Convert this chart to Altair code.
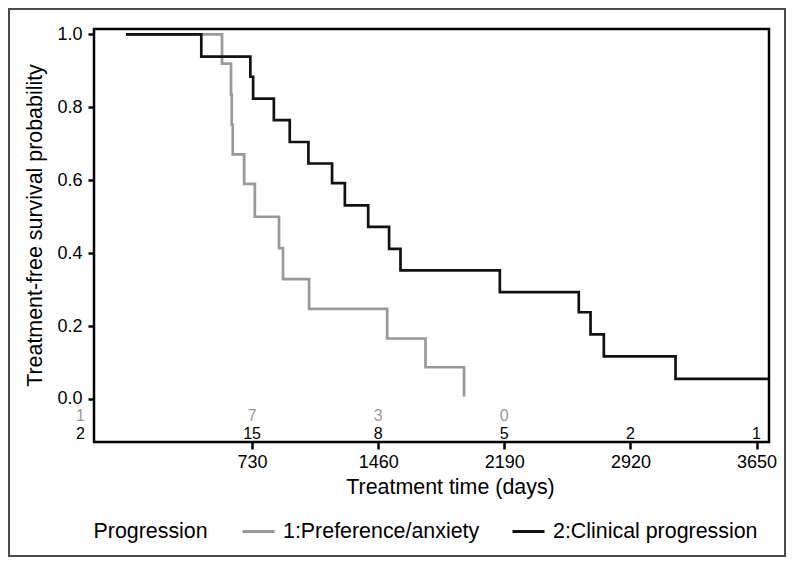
import altair as alt
import pandas as pd

# ---------------- data ----------------
groups = ["1:Preference/anxiety", "2:Clinical progression"]
group_colors = ["#999999", "#111111"]
legend_title = "Progression"

grey_days = [0, 556, 608, 612, 618, 684, 746, 886, 909, 1060, 1512, 1734, 1957]
grey_surv = [1.0, 0.92, 0.835, 0.753, 0.671, 0.59, 0.5, 0.414, 0.329, 0.247, 0.166, 0.087, 0.007]

black_days = [0, 436, 720, 736, 856, 948, 1056, 1193, 1267, 1402, 1523, 1589,
              2164, 2621, 2689, 2766, 3181, 3722]
black_surv = [1.0, 0.939, 0.884, 0.824, 0.765, 0.705, 0.646, 0.592, 0.531, 0.472, 0.412, 0.353,
              0.293, 0.238, 0.177, 0.117, 0.055, 0.055]

risk_days = [730, 1460, 2190, 2920, 3650]
risk_grey = [7, 3, 0]
risk_black = [15, 8, 5, 2, 1]

x_ticks = [730, 1460, 2190, 2920, 3650]
y_ticks = [0.0, 0.2, 0.4, 0.6, 0.8, 1.0]

# ---------------- tables ----------------
surv_df = pd.concat([
    pd.DataFrame({"day": grey_days, "surv": grey_surv, "group": groups[0]}),
    pd.DataFrame({"day": black_days, "surv": black_surv, "group": groups[1]}),
], ignore_index=True)

risk_grey_df = pd.DataFrame({"day": risk_days[:len(risk_grey)], "n": risk_grey})
risk_black_df = pd.DataFrame({"day": risk_days, "n": risk_black})
strata_df = pd.DataFrame({"label": [g.split(":")[0] for g in groups]})
title_df = pd.DataFrame({"label": [legend_title]})

FONT = "Liberation Sans"
W, H = 675, 413
TFS = 21.4   # title / legend font size
LFS = 18     # tick label font size
RFS = 16     # risk table font size

x_scale = alt.Scale(domain=[-185, 3722], nice=False, zero=False)
y_scale = alt.Scale(domain=[-0.118, 1.015], nice=False, zero=False)
color_scale = alt.Scale(domain=groups, range=group_colors)

x_axis = alt.Axis(values=x_ticks, format="d", title="Treatment time (days)", grid=False,
                  domain=False, tickSize=7, tickWidth=2.5, tickColor="black",
                  labelFontSize=LFS, labelColor="black", labelPadding=4, labelFont=FONT,
                  titleFontSize=TFS, titleFontWeight="normal", titleColor="black", titleFont=FONT,
                  titleX=356, titleY=51, titleBaseline="alphabetic", titleAlign="center")
y_axis = alt.Axis(values=y_ticks, format=".1f", title="Treatment-free survival probability",
                  grid=False, domain=False, tickSize=6, tickWidth=2.5, tickColor="black",
                  labelFontSize=LFS, labelColor="black", labelPadding=6, labelFont=FONT,
                  titleFontSize=TFS, titleFontWeight="normal", titleColor="black", titleFont=FONT,
                  titleAngle=270, titleX=-53, titleY=196, titleBaseline="alphabetic",
                  titleAlign="center")

x_enc = alt.X("day:Q", scale=x_scale, axis=x_axis)
y_enc = alt.Y("surv:Q", scale=y_scale, axis=y_axis)

legend = alt.Legend(title=None, orient="none", legendX=147, legendY=485,
                    direction="horizontal",
                    labelFontSize=TFS, labelColor="black", labelFont=FONT, labelOffset=7,
                    labelLimit=0, symbolType="stroke", symbolSize=1024, symbolStrokeWidth=3,
                    columnPadding=26, padding=0)

base = alt.Chart(surv_df).mark_line(interpolate="step-after", strokeWidth=2.7).encode(
    x=x_enc, y=y_enc,
    color=alt.Color("group:N", scale=color_scale, legend=legend),
)
grey_line = base.transform_filter(alt.datum.group == groups[0])
black_line = base.transform_filter(alt.datum.group == groups[1])

risk_grey_txt = alt.Chart(risk_grey_df).mark_text(
    fontSize=RFS, font=FONT, color=group_colors[0], baseline="middle", align="center"
).encode(x=x_enc, y=alt.value(387), text="n:Q")
risk_black_txt = alt.Chart(risk_black_df).mark_text(
    fontSize=RFS, font=FONT, color="black", baseline="middle", align="center"
).encode(x=x_enc, y=alt.value(404.5), text="n:Q")

strata_grey = alt.Chart(strata_df.iloc[[0]]).mark_text(
    fontSize=RFS, font=FONT, color=group_colors[0], baseline="middle", align="right"
).encode(x=alt.value(-9), y=alt.value(387), text="label:N")
strata_black = alt.Chart(strata_df.iloc[[1]]).mark_text(
    fontSize=RFS, font=FONT, color="black", baseline="middle", align="right"
).encode(x=alt.value(-9), y=alt.value(404.5), text="label:N")

legend_title_txt = alt.Chart(title_df).mark_text(
    fontSize=TFS, font=FONT, color="black", baseline="alphabetic", align="left"
).encode(x=alt.value(-0.5), y=alt.value(508.5), text="label:N")

frame = alt.Chart(strata_df.iloc[[0]]).mark_rect(
    fill="transparent", stroke="#4a4a4a", strokeWidth=2
).encode(x=alt.value(-85), x2=alt.value(691), y=alt.value(-20), y2=alt.value(527))

chart = alt.layer(
    frame, grey_line, black_line, risk_grey_txt, risk_black_txt, strata_grey, strata_black,
    legend_title_txt
).properties(
    width=W, height=H,
    autosize=alt.AutoSizeParams(type="none"),
    padding={"left": 86, "top": 21, "right": 17, "bottom": 115},
).configure(
    font=FONT, background="white"
).configure_view(
    stroke="black", strokeWidth=2.5
)

chart.save("out.html", embed_options={"renderer": "svg", "actions": False})
